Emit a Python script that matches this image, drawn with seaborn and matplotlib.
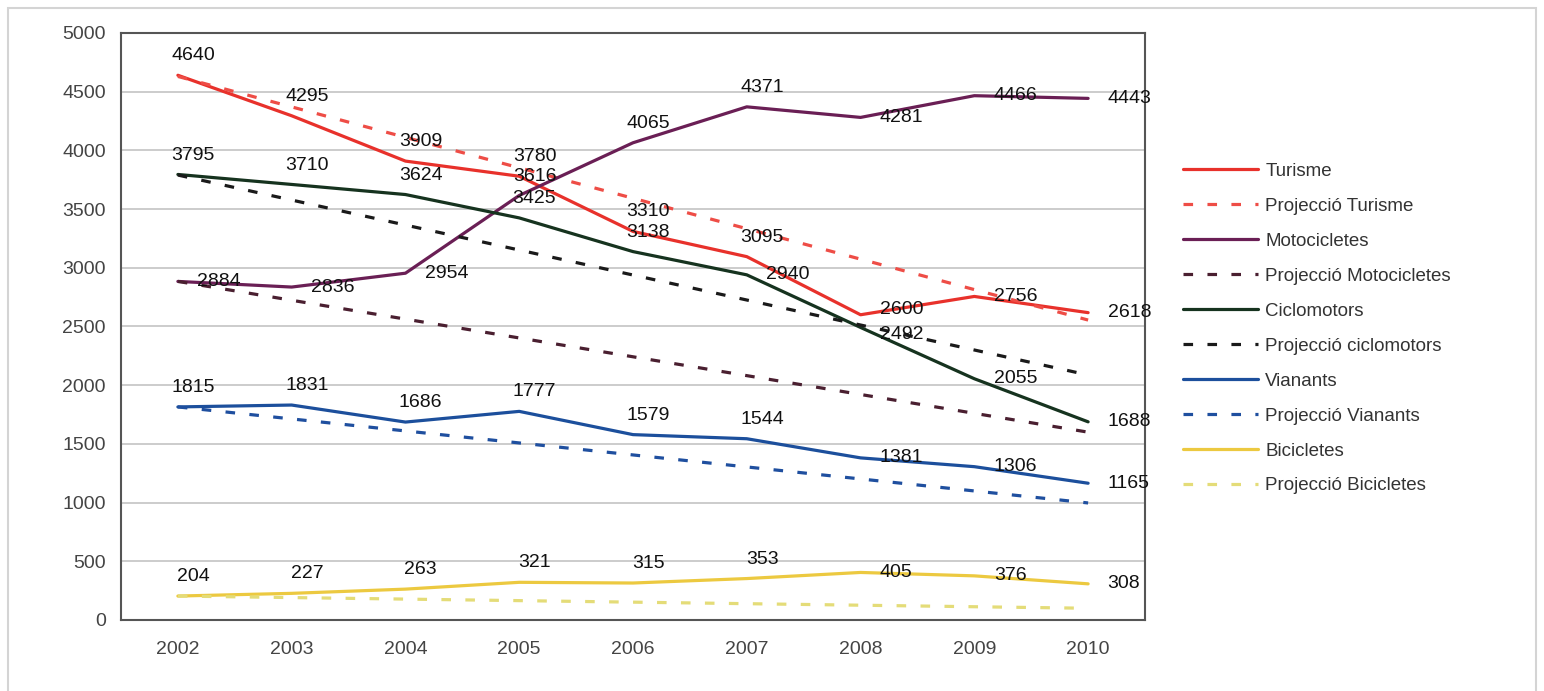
import numpy as np
import pandas as pd
import matplotlib
matplotlib.use("Agg")
import matplotlib.pyplot as plt
from matplotlib.patches import Rectangle
import seaborn as sns

anys = [2002, 2003, 2004, 2005, 2006, 2007, 2008, 2009, 2010]

turisme = [4640, 4295, 3909, 3780, 3310, 3095, 2600, 2756, 2618]
motocicletes = [2884, 2836, 2954, 3616, 4065, 4371, 4281, 4466, 4443]
ciclomotors = [3795, 3710, 3624, 3425, 3138, 2940, 2492, 2055, 1688]
vianants = [1815, 1831, 1686, 1777, 1579, 1544, 1381, 1306, 1165]
bicicletes = [204, 227, 263, 321, 315, 353, 405, 376, 308]

# projeccions: trams rectes entre 2002 i 2010 (llegits del grafic)
proj_anys = [2002, 2010]
proj_turisme = [4630, 2555]
proj_motocicletes = [2884, 1600]
proj_ciclomotors = [3790, 2087]
proj_vianants = [1815, 997]
proj_bicicletes = [204, 100]

series = [
    ("Turisme", anys, turisme),
    ("Projecció Turisme", proj_anys, proj_turisme),
    ("Motocicletes", anys, motocicletes),
    ("Projecció Motocicletes", proj_anys, proj_motocicletes),
    ("Ciclomotors", anys, ciclomotors),
    ("Projecció ciclomotors", proj_anys, proj_ciclomotors),
    ("Vianants", anys, vianants),
    ("Projecció Vianants", proj_anys, proj_vianants),
    ("Bicicletes", anys, bicicletes),
    ("Projecció Bicicletes", proj_anys, proj_bicicletes),
]

colors = {
    "Turisme": "#e8312b", "Projecció Turisme": "#ee4d46",
    "Motocicletes": "#6a1f55", "Projecció Motocicletes": "#4a1f30",
    "Ciclomotors": "#16331f", "Projecció ciclomotors": "#1a1a1a",
    "Vianants": "#1c4f9c", "Projecció Vianants": "#1f4f9f",
    "Bicicletes": "#ecc940", "Projecció Bicicletes": "#e4dc78",
}

# etiquetes que van a la dreta del punt en lloc de damunt
label_right = {
    "Motocicletes": [2002, 2003, 2004],
    "Ciclomotors": [2007],
}
# petit desplaçament vertical per separar 2600 i 2492
label_nudge = {("Turisme", 2008): 4, ("Ciclomotors", 2008): -5}

rows = []
for name, xs, ys in series:
    for x, y in zip(xs, ys):
        rows.append({"any": x, "valor": y, "serie": name})
df = pd.DataFrame(rows)
order = [s[0] for s in series]
dashes = {n: ("" if not n.startswith("Projecció") else (3, 4.5)) for n in order}

sns.set_style("white")
plt.rcParams["font.family"] = ["Liberation Sans", "DejaVu Sans"]

fig = plt.figure(figsize=(15.44, 6.91), dpi=100)
ax = fig.add_axes([121 / 1544, 71 / 691, (1145 - 121) / 1544, (620 - 33) / 691])

sns.lineplot(data=df, x="any", y="valor", hue="serie", style="serie",
             hue_order=order, style_order=order, palette=colors, dashes=dashes,
             linewidth=2.3, errorbar=None, ax=ax)

# etiquetes de valors
for name, xs, ys in series:
    if name.startswith("Projecció"):
        continue
    for x, y in zip(xs, ys):
        dy = label_nudge.get((name, x), 0)
        if x >= 2008 or x in label_right.get(name, []):
            ax.annotate(str(y), (x, y), xytext=(14, dy), textcoords="offset points",
                        ha="left", va="center", fontsize=14, color="#111111")
        else:
            ax.annotate(str(y), (x, y), xytext=(11, 14 + dy), textcoords="offset points",
                        ha="center", va="center", fontsize=14, color="#111111")

ax.set_xlim(2001.5, 2010.5)
ax.set_ylim(0, 5000)
ax.set_yticks(np.arange(0, 5001, 500))
ax.set_xticks(anys)
ax.set_xticks(np.arange(2001.5, 2011, 1), minor=True)
ax.set_xticklabels([str(a) for a in anys])
ax.set_xlabel("")
ax.set_ylabel("")
ax.tick_params(axis="x", which="major", length=0, pad=15, labelsize=14, labelcolor="#444444")
ax.tick_params(axis="x", which="minor", length=5, width=1.3, direction="out", color="#555555")
ax.tick_params(axis="y", length=5, width=1.3, direction="out", color="#555555",
               pad=6, labelsize=14, labelcolor="#444444")
ax.yaxis.grid(True, color="#c8c8c8", linewidth=1.3)
ax.set_axisbelow(True)
for sp in ax.spines.values():
    sp.set_visible(True)
    sp.set_color("#555555")
    sp.set_linewidth(1.5)

handles, labels = ax.get_legend_handles_labels()
ax.legend_.remove()
fig.legend(handles, labels, loc="upper left", bbox_to_anchor=(1166 / 1544, 1 - 146 / 691),
           frameon=False, fontsize=13.5, labelcolor="#333333", handlelength=4.0,
           handletextpad=0.4, labelspacing=0.95)

# marc exterior
fig.patches.append(Rectangle((8 / 1544, -0.02), 1528 / 1544, 1.02 - 8 / 691,
                             transform=fig.transFigure, fill=False,
                             edgecolor="#d4d4d4", linewidth=1.5))

fig.savefig("out.png", dpi=100)
